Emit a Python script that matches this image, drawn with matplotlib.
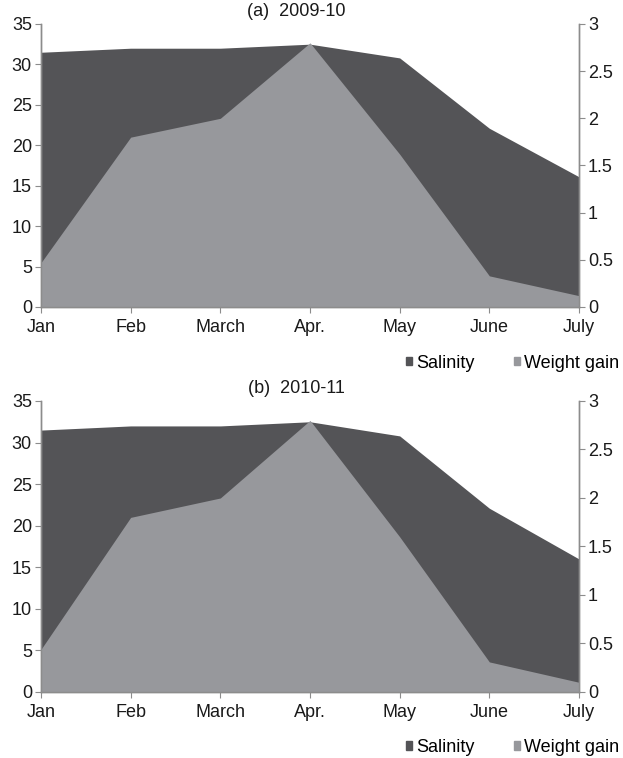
import matplotlib
matplotlib.use("Agg")
import matplotlib.pyplot as plt
from matplotlib.patches import Patch

plt.rcParams["font.family"] = ["Liberation Sans", "DejaVu Sans"]

months = ["Jan", "Feb", "March", "Apr.", "May", "June", "July"]

# (a) 2009-10
salinity_a = [31.5, 32.0, 32.0, 32.5, 30.8, 22.1, 16.1]
weight_a = [0.47, 1.80, 2.00, 2.80, 1.62, 0.33, 0.12]

# (b) 2010-11
salinity_b = [31.5, 32.0, 32.0, 32.5, 30.8, 22.1, 16.0]
weight_b = [0.44, 1.80, 2.00, 2.80, 1.60, 0.31, 0.10]

DARK = "#545457"
LIGHT = "#97989c"
SPINE = "#8c8c8c"
FS = 13

fig = plt.figure(figsize=(6.23, 7.58), dpi=100)


def panel(rect, sal, wg, title, leg_y):
    ax = fig.add_axes(rect)
    x = list(range(len(months)))
    ax.fill_between(x, sal, 0, color=DARK, linewidth=0)
    ax.set_xlim(0, len(months) - 1)
    ax.set_ylim(0, 35)
    ax.set_yticks(range(0, 36, 5))
    ax.set_xticks(x)
    ax.set_xticklabels(months)

    ax2 = ax.twinx()
    ax2.fill_between(x, wg, 0, color=LIGHT, linewidth=0)
    ax2.set_ylim(0, 3)
    ax2.set_yticks([0, 0.5, 1, 1.5, 2, 2.5, 3])
    ax2.set_yticklabels(["0", "0.5", "1", "1.5", "2", "2.5", "3"])

    for a in (ax, ax2):
        a.spines["top"].set_visible(False)
        for s in ("left", "right", "bottom"):
            a.spines[s].set_color(SPINE)
            a.spines[s].set_linewidth(1.0)
        a.tick_params(colors=SPINE, labelcolor="#1a1a1a", labelsize=FS,
                      length=4, direction="out", pad=2.5)
    ax.tick_params(axis="x", pad=5)

    ax.text(0.475, 1.015, title, transform=ax.transAxes, ha="center",
            va="bottom", fontsize=FS, color="#1a1a1a")

    handles = [Patch(color=DARK, label="Salinity"),
               Patch(color=LIGHT, label="Weight gain")]
    fig.legend(handles=handles, loc="center right", bbox_to_anchor=(1.02, leg_y),
               ncol=2, frameon=False, fontsize=FS, handlelength=0.35,
               handleheight=0.35, handletextpad=0.2, columnspacing=2.2)
    return ax


panel([0.0658, 0.595, 0.8636, 0.3734], salinity_a, weight_a, "(a)  2009-10", 0.521)
panel([0.0658, 0.0871, 0.8636, 0.3839], salinity_b, weight_b, "(b)  2010-11", 0.014)

fig.savefig("out.png", dpi=100)
